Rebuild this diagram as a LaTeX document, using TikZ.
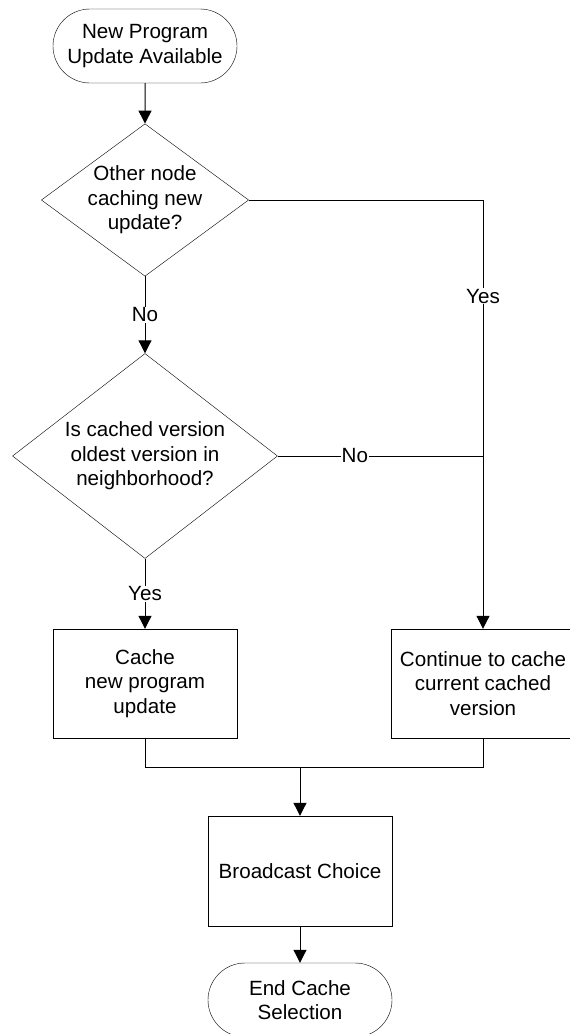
\documentclass[tikz,border=0pt]{standalone}
\usepackage{fontspec}
\setmainfont{Liberation Sans}
\usetikzlibrary{
    shapes.geometric,      % Diamond decisions
    shapes.misc,           % Rounded terminals
    arrows.meta            % Modern arrow tips
}

\begin{document}
\begin{tikzpicture}[x=1pt,y=-1pt,
    every node/.style={font=\fontsize{20.6}{24.5}\selectfont,align=center},
    terminal/.style={draw,rounded rectangle,minimum width=184pt,minimum height=74pt,inner sep=0pt},
    decision/.style={draw,diamond,inner sep=0pt},
    process/.style={draw,rectangle,minimum width=184pt,minimum height=109pt,inner sep=0pt},
    lbl/.style={fill=white,inner sep=1pt},
    flow/.style={line width=1pt},
    arr/.style={flow,-{Triangle[width=13pt,length=13pt]}}]
    \useasboundingbox (0,0) rectangle (570,1034);
    % shapes
    \node[terminal] (start) at (145,46) {New Program\\Update Available};
    \node[decision,minimum width=204pt,minimum height=150pt,aspect=1.36] (q1) at (145,200) {Other node\\caching new\\update?};
    \node[decision,minimum width=265pt,minimum height=205pt,aspect=1.29] (q2) at (145,456) {Is cached version\\oldest version in\\neighborhood?};
    \node[process] (cache) at (145,683.5) {Cache\\new program\\update};
    \node[process] (keep) at (483,683.5) {Continue to cache\\current cached\\version};
    \node[process,minimum height=110pt] (bcast) at (300,871) {Broadcast Choice};
    \node[terminal] (finish) at (300,1000) {End Cache\\Selection};
    \coordinate (corner) at (keep.north |- q1.east);
    \coordinate (join) at (keep.north |- q2.east);
    \coordinate (merge) at (300,767);
    % connectors
    \draw[arr] (start) -- (q1);
    \draw[arr] (q1) -- node[lbl]{No} (q2);
    \draw[arr] (q2) -- node[lbl]{Yes} (cache);
    \draw[flow] (q1.east) -- (corner);
    \draw[arr] (corner) -- node[lbl,pos=0.224]{Yes} (keep.north);
    \draw[flow] (q2.east) -- node[lbl,pos=0.376]{No} (join);
    \draw[flow] (cache.south) |- (merge);
    \draw[flow] (keep.south) |- (merge);
    \draw[arr] (merge) -- (bcast);
    \draw[arr] (bcast) -- (finish);
\end{tikzpicture}
\end{document}
